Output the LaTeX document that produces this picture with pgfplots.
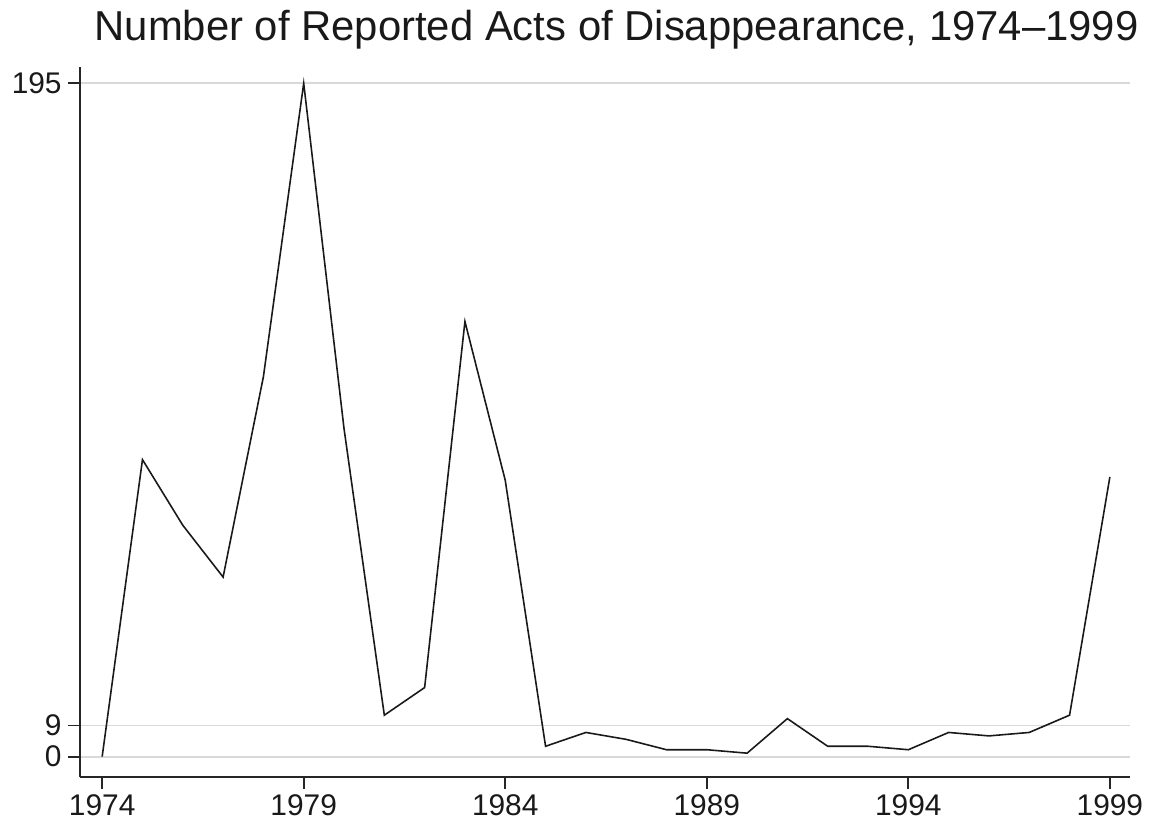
\documentclass[border=0pt]{standalone}
\usepackage{fontspec}
\setmainfont{Liberation Sans}
\usepackage{pgfplots}
\pgfplotsset{compat=1.18}

\begin{document}
\begin{tikzpicture}
\useasboundingbox (-0.80cm,-0.46cm) rectangle (10.70cm,7.77cm);
\begin{axis}[
  at={(0,0)}, anchor=south west,
  scale only axis, width=10.5cm, height=7.1cm,
  xmin=1973.45, xmax=1999.5,
  ymin=-5.9, ymax=199.7,
  axis x line*=bottom, axis y line*=left,
  axis line style={black!85, line width=0.5pt},
  xtick={1974,1979,1984,1989,1994,1999},
  ytick={0,9,195},
  tick align=outside,
  major tick length=0.12cm,
  tick style={black!85, line width=0.5pt},
  ymajorgrids, grid style={black!15, line width=0.5pt},
  /pgf/number format/1000 sep={},
  /pgf/number format/assume math mode=true,
  tick label style={font=\fontsize{8.5}{10}\selectfont, black!90},
  xticklabel style={yshift=0.07cm},
  yticklabel style={xshift=0.06cm},
  title={Number of Reported Acts of Disappearance, 1974\textendash1999},
  title style={at={(0.511,1)}, anchor=base, yshift=0.05cm,
    font=\fontsize{11.9}{14}\selectfont, black!90},
  clip=false,
]
\addplot[black!90, line width=0.45pt] coordinates {
  (1974,0) (1975,86) (1976,67) (1977,52) (1978,110) (1979,195)
  (1980,95) (1981,12) (1982,20) (1983,126) (1984,80) (1985,3)
  (1986,7) (1987,5) (1988,2) (1989,2) (1990,1) (1991,11)
  (1992,3) (1993,3) (1994,2) (1995,7) (1996,6) (1997,7)
  (1998,12) (1999,81)
};
\end{axis}
\end{tikzpicture}
\end{document}
